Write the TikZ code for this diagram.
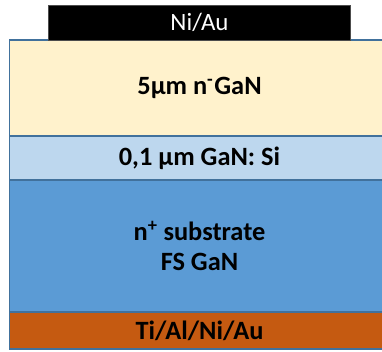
\documentclass[tikz,border=0pt]{standalone}
\usepackage{fontspec}
\setmainfont{Carlito}
\usetikzlibrary{positioning}
\definecolor{edgeblue}{HTML}{41719C}
\definecolor{driftcol}{HTML}{FFF2CC}
\definecolor{dopedcol}{HTML}{BDD7EE}
\definecolor{subcol}{HTML}{5B9BD5}
\definecolor{ohmiccol}{HTML}{C55A11}

\begin{document}
\begin{tikzpicture}[x=1bp,y=-1bp,
  layer/.style={draw=edgeblue, line width=1.2bp, outer sep=0pt, inner sep=0pt,
    minimum width=380bp, align=center,
    font=\fontsize{26.5}{31}\selectfont\bfseries}]
  \useasboundingbox (0,0) rectangle (382,352);
  \clip (0,0) rectangle (382,352);

  % epitaxial stack
  \node[layer, fill=driftcol, minimum height=96bp, anchor=north west] (drift) at (9.5,40)
    {5µm n\textsuperscript{-}\kern1bp GaN};
  \node[layer, fill=dopedcol, minimum height=44bp, below=0pt of drift] (doped)
    {0,1 µm GaN: Si};
  \node[layer, fill=subcol, minimum height=132bp, below=0pt of doped] (sub)
    {n\textsuperscript{+} substrate\\FS GaN};
  \node[layer, fill=ohmiccol, minimum height=37bp, below=0pt of sub] (ohmic)
    {Ti/Al/Ni/Au};

  % Schottky contact
  \node[draw=black!70, line width=0.8bp, fill=black, text=white, outer sep=0pt,
    minimum width=302bp, minimum height=35bp, font=\fontsize{25}{30}\selectfont,
    above=0pt of drift] (schottky) {Ni/Au};
\end{tikzpicture}
\end{document}
